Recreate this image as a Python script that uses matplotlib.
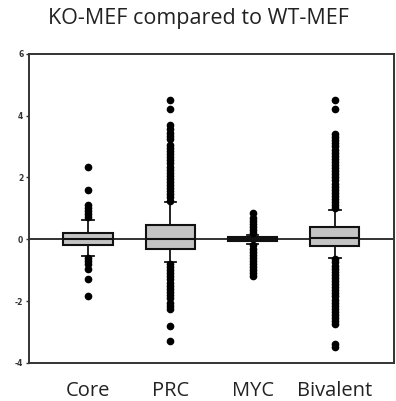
import numpy as np
import matplotlib
matplotlib.use("Agg")
import matplotlib.pyplot as plt

# Box statistics (log ratio KO vs WT)
groups = ["Core", "PRC", "MYC", "Bivalent"]
medians = [0.0, 0.02, 0.0, 0.05]
q1 = [-0.2, -0.33, -0.07, -0.22]
q3 = [0.2, 0.45, 0.07, 0.4]
whislo = [-0.55, -0.75, -0.15, -0.6]
whishi = [0.62, 1.2, 0.15, 0.95]

# outliers as seen in the figure
core_out = [2.35, 1.6, 1.12, 1.02, 0.92, 0.82, 0.72,
            -0.62, -0.7, -0.8, -0.95, -1.3, -1.85]
prc_out = [1.25, 1.35, 1.45, 1.55, 1.65, 1.75, 1.85, 1.95, 2.05, 2.15,
           2.25, 2.35, 2.45, 2.55, 2.65, 2.75, 2.85, 2.95, 3.05,
           3.25, 3.35, 3.45, 3.55, 3.7, 4.2, 4.5,
           -0.8, -0.9, -1.0, -1.1, -1.2, -1.3, -1.4, -1.5, -1.6, -1.7,
           -1.8, -1.9, -2.05, -2.15, -2.25, -2.8, -3.3]
myc_out = [0.2, 0.3, 0.4, 0.5, 0.6, 0.7, 0.85,
           -0.2, -0.3, -0.4, -0.5, -0.6, -0.7, -0.8, -0.9, -1.0, -1.1, -1.2]
biv_out = [1.0, 1.1, 1.2, 1.3, 1.4, 1.5, 1.6, 1.7, 1.8, 1.9, 2.0, 2.1,
           2.2, 2.3, 2.4, 2.5, 2.6, 2.7, 2.8, 2.9, 3.0, 3.1, 3.2, 3.3,
           3.4, 4.2, 4.5,
           -0.65, -0.75, -0.85, -0.95, -1.05, -1.15, -1.25, -1.35, -1.45,
           -1.55, -1.65, -1.75, -1.85, -1.95, -2.05, -2.15, -2.25, -2.35,
           -2.45, -2.55, -2.65, -2.75, -3.4, -3.5]
outliers = [core_out, prc_out, myc_out, biv_out]

stats = []
for i, g in enumerate(groups):
    stats.append(dict(label=g, med=medians[i], q1=q1[i], q3=q3[i],
                      whislo=whislo[i], whishi=whishi[i], fliers=outliers[i]))

fig = plt.figure(figsize=(3.96, 4.01), dpi=100)
ax = fig.add_axes([0.073, 0.095, 0.922, 0.771])

ax.axhline(0, color="#222222", lw=1.3, zorder=1)

ax.bxp(stats, positions=[1, 2, 3, 4], widths=0.6, patch_artist=True,
       boxprops=dict(facecolor="#c4c4c4", edgecolor="#111111", lw=1.5),
       medianprops=dict(color="#111111", lw=1.5),
       whiskerprops=dict(color="#111111", lw=1.3),
       capprops=dict(color="#111111", lw=1.3),
       capwidths=0.14,
       flierprops=dict(marker="o", markerfacecolor="black",
                       markeredgecolor="black", markersize=4.5),
       zorder=2)

ax.set_xlim(0.28, 4.72)
ax.set_ylim(-4, 6)
ax.set_yticks([-4, -2, 0, 2, 4, 6])
ax.set_yticklabels(["-4", "-2", "0", "2", "4", "6"])
ax.tick_params(axis="y", length=2, width=1, labelsize=5.5, colors="#333333", pad=2)
for lab in ax.get_yticklabels():
    lab.set_fontweight("bold")
ax.tick_params(axis="x", length=0, pad=13)
ax.set_xticks([1, 2, 3, 4])
ax.set_xticklabels(groups, fontsize=14.5, family="Open Sans", color="#222222")
for s in ax.spines.values():
    s.set_color("#333333")
    s.set_linewidth(1.4)

fig.text(0.5, 0.953, "KO-MEF compared to WT-MEF", ha="center", va="center",
         fontsize=15.5, family="Open Sans", color="#222222")

fig.savefig("out.png", dpi=100)
